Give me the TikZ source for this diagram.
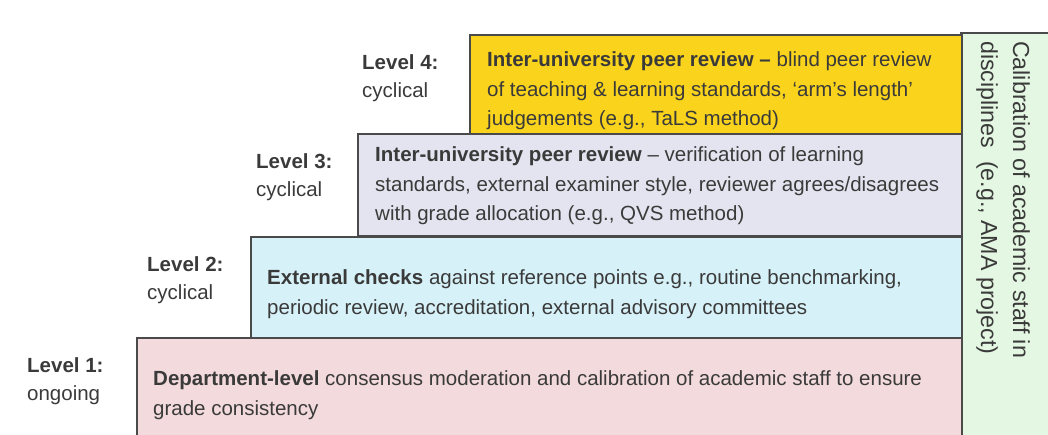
\documentclass[tikz,border=0pt]{standalone}
\usepackage{fontspec}
\setmainfont{Liberation Sans}
\usetikzlibrary{positioning}
\definecolor{lvfour}{HTML}{FAD41C}
\definecolor{lvthree}{HTML}{E4E4F0}
\definecolor{lvtwo}{HTML}{D7F1F8}
\definecolor{lvone}{HTML}{F3DADC}
\definecolor{calib}{HTML}{E4F7E2}
\definecolor{edge}{HTML}{4A4A4A}
\definecolor{ink}{HTML}{3A3A3A}
\newcommand{\bodyfont}{\fontsize{20.5}{29.5}\selectfont}
\newcommand{\lvlfont}{\fontsize{20.5}{28}\selectfont}
\newcommand{\sidefont}{\fontsize{23.2}{32}\selectfont}
\tikzset{
  tier/.style={draw=edge, line width=1.6pt, anchor=north west, inner sep=0pt},
  tiertext/.style={anchor=base west, inner sep=0pt, align=left, text=ink, font=\bodyfont},
  lvl/.style={anchor=base west, inner sep=0pt, align=left, text=ink, font=\lvlfont}
}
\begin{document}
\begin{tikzpicture}[x=1pt, y=-1pt]
\useasboundingbox (0,0) rectangle (1048,435);
\clip (0,0) rectangle (1048,435);
% side strip
\fill[calib] (961,33) rectangle (1050,440);
\draw[edge, line width=1.6pt] (1050,33) -- (961,33) -- (961,440);
\node[rotate=-90, anchor=north west, inner sep=0pt, align=left, text=ink, font=\sidefont]
  (calibtext) at (1030,41) {Calibration of academic staff in\\disciplines\ \ (e.g., AMA project)};

% tiers, bottom up
\node[tier, fill=lvone, minimum width=825pt, minimum height=114pt] (tierone) at (136,337) {};
\node[tier, fill=lvtwo, minimum width=711pt, minimum height=101pt] (tiertwo) at (250,236) {};
\node[tier, fill=lvthree, minimum width=604pt, minimum height=102pt] (tierthree) at (357,133) {};
\node[tier, fill=lvfour, minimum width=492pt, minimum height=99pt] (tierfour) at (469,34) {};

% tier texts (anchored on their last baseline)
\node[tiertext] (textone) at (153,415)
  {\textbf{Department-level} consensus moderation and calibration of academic staff to ensure\\grade consistency};
\node[tiertext] (texttwo) at (267,314)
  {\textbf{External checks} against reference points e.g., routine benchmarking,\\periodic review, accreditation, external advisory committees};
\node[tiertext] (textthree) at (375,221)
  {\textbf{Inter-university peer review} -- verification of learning\\standards, external examiner style, reviewer agrees/disagrees\\with grade allocation (e.g., QVS method)};
\node[tiertext] (textfour) at (487,126)
  {\textbf{Inter-university peer review --} blind peer review\\of teaching \& learning standards, `arm's length'\\judgements (e.g., TaLS method)};

% level labels
\node[lvl] (labone) at (27,400) {\textbf{Level 1:}\\ongoing};
\node[lvl] (labtwo) at (147,299) {\textbf{Level 2:}\\cyclical};
\node[lvl] (labthree) at (256,197) {\textbf{Level 3:}\\cyclical};
\node[lvl] (labfour) at (362,98) {\textbf{Level 4:}\\cyclical};
\end{tikzpicture}
\end{document}
